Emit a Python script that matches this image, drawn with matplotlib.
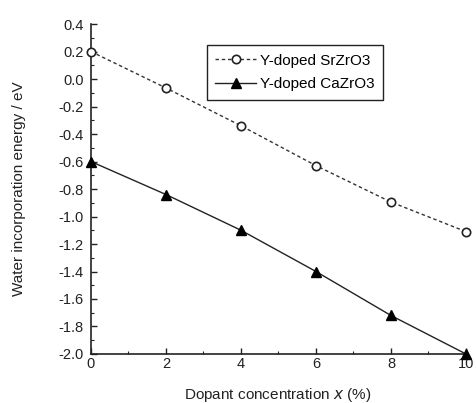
import matplotlib
matplotlib.use("Agg")
import matplotlib.pyplot as plt
from matplotlib.ticker import MultipleLocator

plt.rcParams['font.family'] = ['Liberation Sans', 'DejaVu Sans']

x = [0, 2, 4, 6, 8, 10]
sr_zro3 = [0.20, -0.065, -0.34, -0.63, -0.895, -1.11]
ca_zro3 = [-0.60, -0.84, -1.10, -1.40, -1.72, -2.00]
labels = ["Y-doped SrZrO3", "Y-doped CaZrO3"]

fig = plt.figure(figsize=(4.76, 4.03), dpi=100)
ax = fig.add_axes([0.191, 0.1216, 0.788, 0.8188])

ax.plot(x, sr_zro3, linestyle=(0, (2.5, 2)), color='#333333', linewidth=1.0,
        marker='o', markersize=6, markerfacecolor='white', markeredgecolor='#222222',
        markeredgewidth=1.2, label=labels[0], clip_on=False, zorder=3)
ax.plot(x, ca_zro3, linestyle='-', color='#222222', linewidth=1.0,
        marker='^', markersize=7.5, markerfacecolor='black', markeredgecolor='black',
        label=labels[1], clip_on=False, zorder=3)

ax.set_xlim(0, 10)
ax.set_ylim(-2.0, 0.4)
ax.xaxis.set_major_locator(MultipleLocator(2))
ax.xaxis.set_minor_locator(MultipleLocator(1))
ax.yaxis.set_major_locator(MultipleLocator(0.2))
ax.yaxis.set_minor_locator(MultipleLocator(0.1))
ax.yaxis.set_major_formatter(plt.FuncFormatter(lambda v, p: f"{v:.1f}"))

for s in ['top', 'right']:
    ax.spines[s].set_visible(False)
for s in ['left', 'bottom']:
    ax.spines[s].set_linewidth(1.2)
    ax.spines[s].set_color('#222222')

ax.tick_params(axis='both', which='major', direction='in', length=4, width=1.0,
               labelsize=10.5, colors='#222222')
ax.tick_params(axis='y', which='major', pad=5)
ax.tick_params(axis='x', which='major', pad=2)
ax.tick_params(axis='both', which='minor', direction='in', length=2.5, width=0.8,
               colors='#222222')

ax.set_xlabel("Dopant concentration $\\it{x}$ (%)", fontsize=11, color='#222222')
ax.set_ylabel("Water incorporation energy / eV", fontsize=11, color='#222222')
ax.xaxis.set_label_coords(0.499, -0.124)
ax.xaxis.label.set_va('center')
ax.yaxis.set_label_coords(-0.192, 0.5)
ax.yaxis.label.set_va('center')

leg = ax.legend(loc='upper left', bbox_to_anchor=(0.309, 0.936), fontsize=11,
                frameon=True, fancybox=False, edgecolor='#222222', framealpha=1,
                handlelength=2.7, handletextpad=0.25, borderpad=0.55, labelspacing=0.65,
                borderaxespad=0)
leg.get_frame().set_linewidth(1.0)

fig.savefig("out.png", dpi=100)
